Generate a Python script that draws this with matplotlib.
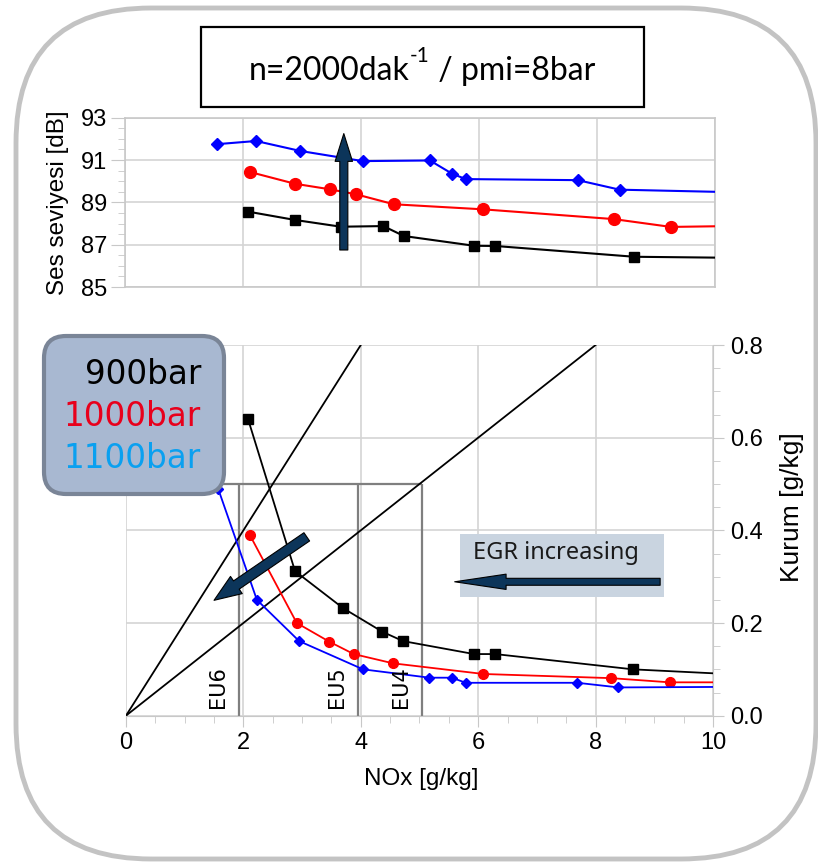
import matplotlib.pyplot as plt
from matplotlib.patches import FancyBboxPatch, Rectangle
from matplotlib.ticker import MultipleLocator

# ----------------------------- data -----------------------------
# top: noise level vs NOx; last entry of each series is the line end (no marker)
nox_900_top = [2.09, 2.88, 3.66, 4.38, 4.73, 5.92, 6.28, 8.64, 10.0]
ses_900 = [88.56, 88.17, 87.85, 87.88, 87.41, 86.95, 86.94, 86.43, 86.39]
nox_1000_top = [2.11, 2.88, 3.47, 3.92, 4.56, 6.08, 8.29, 9.26, 10.0]
ses_1000 = [90.44, 89.88, 89.62, 89.38, 88.91, 88.67, 88.21, 87.84, 87.87]
nox_1100_top = [1.56, 2.22, 2.97, 4.03, 5.17, 5.55, 5.78, 7.68, 8.39, 10.0]
ses_1100 = [91.75, 91.9, 91.43, 90.95, 90.98, 90.35, 90.1, 90.05, 89.6, 89.5]
ses_ticks = [85, 87, 89, 91, 93]

# bottom: soot vs NOx
nox_900 = [2.08, 2.88, 3.70, 4.37, 4.72, 5.93, 6.29, 8.64, 10.0]
soot_900 = [0.64, 0.312, 0.232, 0.181, 0.161, 0.133, 0.133, 0.100, 0.0915]
nox_1000 = [2.11, 2.91, 3.46, 3.88, 4.55, 6.09, 8.27, 9.26, 10.0]
soot_1000 = [0.39, 0.20, 0.16, 0.133, 0.113, 0.090, 0.081, 0.072, 0.072]
nox_1100 = [1.57, 2.23, 2.95, 4.04, 5.17, 5.55, 5.79, 7.69, 8.39, 10.0]
soot_1100 = [0.49, 0.25, 0.161, 0.100, 0.082, 0.082, 0.071, 0.071, 0.061, 0.062]

# soot/NOx ratio lines (slope, NOx end)
ratio_slopes = [0.2, 0.1]
ratio_nox_end = [4.0, 8.0]

# emission limits
eu_labels = ["EU6", "EU5", "EU4"]
eu_nox = [1.92, 3.96, 5.04]
eu_soot = 0.5

pressures = ["900bar", "1000bar", "1100bar"]
legend_colors = ["black", "#e8001c", "#0aa0f0"]

TITLE_PARTS = ["n=2000dak", "-1", " / pmi=8bar"]
NAVY = "#0c355a"
GRID = "#d4d4d4"
SPINE = "#c8c8c8"

plt.rcParams["font.family"] = ["Liberation Sans", "DejaVu Sans"]

fig = plt.figure(figsize=(8.18, 8.63), dpi=100)

# ----------------------------- top: noise level -----------------------------
ax1 = fig.add_axes([0.153, 0.6674, 0.7205, 0.1962])
for x, y, c, m, ms in [(nox_900_top, ses_900, "black", "s", 7.5),
                       (nox_1000_top, ses_1000, "red", "o", 8.5),
                       (nox_1100_top, ses_1100, "blue", "D", 6.5)]:
    ax1.plot(x, y, color=c, lw=1.5, marker=m, ms=ms, markevery=slice(0, -1), zorder=3)
ax1.set_xlim(0, 10)
ax1.set_ylim(min(ses_ticks), max(ses_ticks))
ax1.set_axisbelow(True)
ax1.xaxis.set_major_locator(MultipleLocator(2))
ax1.set_yticks(ses_ticks)
ax1.yaxis.set_minor_locator(MultipleLocator(0.5))
ax1.grid(True, color=GRID, lw=1.2)
ax1.tick_params(axis="x", length=0, labelbottom=False)
ax1.tick_params(axis="y", which="major", length=10, color=SPINE, labelsize=17, pad=3)
ax1.tick_params(axis="y", which="minor", length=5, color=SPINE)
for s in ax1.spines.values():
    s.set_color(SPINE)
    s.set_linewidth(1.2)
ax1.set_ylabel("Ses seviyesi [dB]", fontsize=17.5)
ax1.yaxis.set_label_coords(-0.095, 0.5)
ax1.annotate("", xy=(3.71, 92.25), xytext=(3.71, 86.75),
             arrowprops=dict(arrowstyle="simple,head_length=2.0,head_width=1.25,tail_width=0.58",
                             fc=NAVY, ec="black", lw=0.8, shrinkA=0, shrinkB=0,
                             mutation_scale=10), zorder=5)

# ----------------------------- bottom: soot -----------------------------
ax2 = fig.add_axes([0.154, 0.1707, 0.7176, 0.4295])
ax2.set_axisbelow(True)
for x, y, c, m, ms in [(nox_900, soot_900, "black", "s", 6.5),
                       (nox_1000, soot_1000, "red", "o", 7),
                       (nox_1100, soot_1100, "blue", "D", 5)]:
    ax2.plot(x, y, color=c, lw=1.3, marker=m, ms=ms, markevery=slice(0, -1), zorder=3)
for slope, xe in zip(ratio_slopes, ratio_nox_end):
    ax2.plot([0, xe], [0, slope * xe], color="black", lw=1.3, zorder=2.5)
ax2.vlines(eu_nox, 0, eu_soot, color="#7f7f7f", lw=1.6, zorder=2)
ax2.hlines(eu_soot, 1.5, max(eu_nox), color="#7f7f7f", lw=1.6, zorder=2)
for lab, xv in zip(eu_labels, eu_nox):
    ax2.text(xv - 0.36, 0.016, lab, rotation=90, ha="center", va="bottom",
             fontsize=15, family="DejaVu Sans", zorder=4)

ax2.set_xlim(0, 10)
ax2.set_ylim(0, 0.8)
ax2.xaxis.set_major_locator(MultipleLocator(2))
ax2.xaxis.set_minor_locator(MultipleLocator(0.5))
ax2.yaxis.set_major_locator(MultipleLocator(0.2))
ax2.yaxis.set_minor_locator(MultipleLocator(0.05))
ax2.yaxis.tick_right()
ax2.yaxis.set_label_position("right")
ax2.yaxis.set_major_formatter(lambda v, p: f"{v:.1f}")
ax2.grid(True, which="major", color=GRID, lw=1.2)
ax2.spines["left"].set_visible(False)
ax2.spines["top"].set_visible(False)
ax2.spines["right"].set_color(SPINE)
ax2.spines["bottom"].set_color(SPINE)
ax2.tick_params(which="major", length=8, color=SPINE)
ax2.tick_params(which="minor", length=5, color=SPINE)
ax2.tick_params(axis="x", pad=4, labelsize=17)
ax2.tick_params(axis="y", pad=4, labelsize=17)
ax2.set_ylabel("Kurum [g/kg]", fontsize=19, rotation=90)
ax2.yaxis.set_label_coords(1.114, 0.563)
ax2.set_xlabel("NOx [g/kg]", fontsize=17.5)
ax2.xaxis.set_label_coords(0.5025, -0.14)

ax2.annotate("", xy=(1.50, 0.249), xytext=(3.08, 0.386),
             arrowprops=dict(arrowstyle="simple,head_length=1.95,head_width=1.5,tail_width=0.72",
                             fc=NAVY, ec="black", lw=0.8, shrinkA=0, shrinkB=0,
                             mutation_scale=10), zorder=5)

ax2.add_patch(Rectangle((5.69, 0.256), 3.48, 0.136, fc="#c9d4e0", ec="none", zorder=1.5))
ax2.text(5.91, 0.351, "EGR increasing", fontsize=17, family="Noto Sans",
         color="#1a1a1a", va="center", ha="left", zorder=4)
ax2.annotate("", xy=(5.6, 0.289), xytext=(9.1, 0.289),
             arrowprops=dict(arrowstyle="simple,head_length=3.7,head_width=1.1,tail_width=0.5",
                             fc=NAVY, ec="black", lw=0.8, shrinkA=0, shrinkB=0,
                             mutation_scale=10), zorder=5)

# ----------------------------- overlay: frame, title, legend -----------------------------
ov = fig.add_axes([0, 0, 1, 1], zorder=10)
ov.set_xlim(0, 818)
ov.set_ylim(863, 0)
ov.axis("off")
ov.patch.set_alpha(0)

ov.add_patch(FancyBboxPatch((16, 8), 800, 851, boxstyle="round,pad=0,rounding_size=135",
                            fc="none", ec="#c3c3c3", lw=3.5, clip_on=False))
ov.add_patch(Rectangle((201, 27), 443, 80, fc="white", ec="black", lw=1.6))

# title with a small raised "-1": place the pieces side by side, centred in the box
title_texts = [
    ov.text(0, 80, TITLE_PARTS[0], fontsize=23, family="Lato", va="baseline"),
    ov.text(0, 62, TITLE_PARTS[1], fontsize=15, family="Lato", va="baseline"),
    ov.text(0, 80, TITLE_PARTS[2], fontsize=23, family="Lato", va="baseline"),
]
fig.canvas.draw()
renderer = fig.canvas.get_renderer()
widths = [t.get_window_extent(renderer).width for t in title_texts]
x0 = 422 - sum(widths) / 2
for t, w in zip(title_texts, widths):
    t.set_x(x0)
    x0 += w

ov.add_patch(FancyBboxPatch((44, 336), 180, 158, boxstyle="round,pad=0,rounding_size=22",
                            fc="#a8b8d1", ec="#7a8597", lw=3))
for i, (lab, col) in enumerate(zip(pressures, legend_colors)):
    ov.text(201, 374 + 42 * i, lab, fontsize=23.5, family="DejaVu Sans",
            color=col, ha="right", va="center")

fig.savefig("out.png", dpi=100)
